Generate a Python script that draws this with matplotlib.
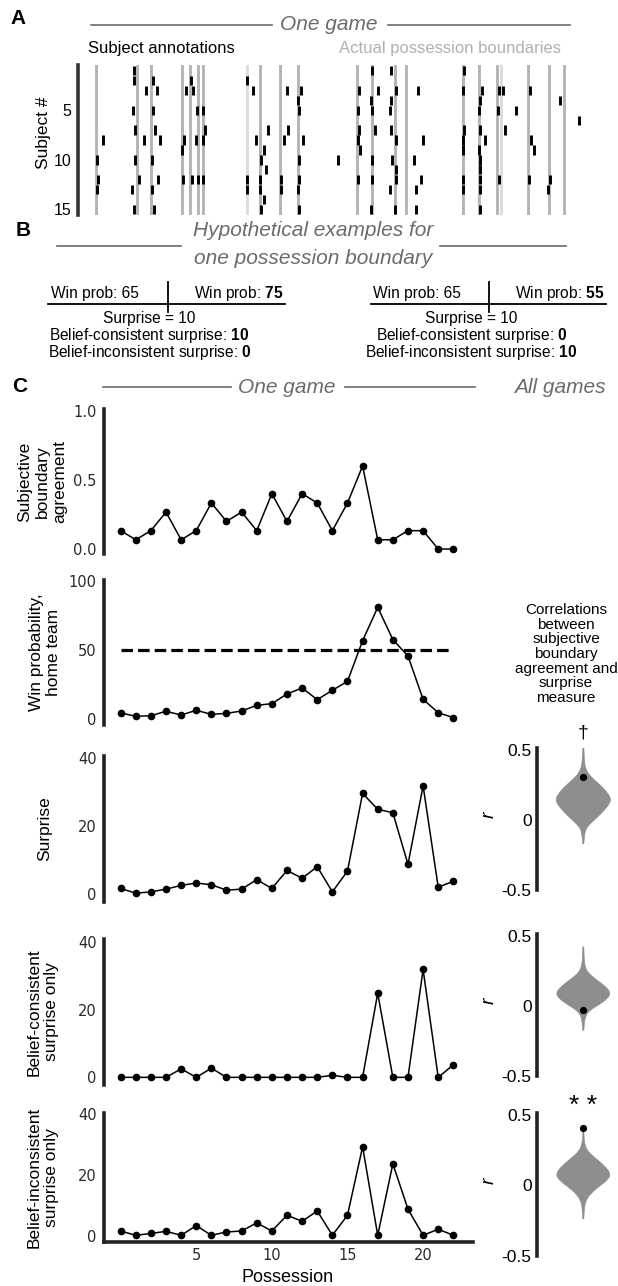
import matplotlib
matplotlib.use("Agg")
import matplotlib.pyplot as plt
from matplotlib.lines import Line2D
from matplotlib.path import Path
from matplotlib.patches import PathPatch

plt.rcParams['font.family'] = ['Liberation Sans', 'DejaVu Sans']
plt.rcParams['mathtext.fontset'] = 'custom'
plt.rcParams['mathtext.rm'] = 'Liberation Sans'
plt.rcParams['mathtext.bf'] = 'Liberation Sans:bold'
plt.rcParams['mathtext.it'] = 'Liberation Sans:italic'

# ---------------- data ----------------
# Panel A: possession boundaries (time, arbitrary units) and subject annotations
boundary_times = [95.7, 136.7, 151, 182.3, 190, 198.3, 203.3, 246.7, 260, 280,
                  297.7, 356.7, 371.7, 395, 405.7, 462.7, 479, 497, 501, 528,
                  549, 563.6]
boundary_light = [246.7, 501]
subjects = list(range(1, 16))
annotations = [
    [134.3, 371.7, 391, 464],
    [134.3, 153.3, 190.7, 246.7],
    [146, 157.3, 186, 193.3, 253.3, 286.7, 301, 359, 378.3, 395.7, 417.7, 463.3, 482.3, 498.5, 502.6, 530],
    [297.7, 371, 391, 480, 559.7],
    [133.3, 153.3, 197.3, 203.3, 299, 357.7, 372.3, 389.7, 479, 497.7, 516.4],
    [579.4],
    [135, 155, 205, 268.3, 288.3, 359, 375, 391, 464.3, 480, 504.5],
    [102.7, 144.3, 160, 184, 196, 202.7, 255.7, 284.3, 302.7, 357.7, 395.7, 423.3, 462.7, 485, 531.3],
    [182.3, 264.3, 360, 462.7, 479, 534],
    [96.7, 135, 152.3, 261, 299, 337.7, 372.3, 392.3, 414.3, 480],
    [265.7, 395.7, 480],
    [97.7, 139, 158.3, 183.3, 191.7, 198.3, 203.3, 247.3, 260, 281, 299, 357.7, 372.3, 395.7, 421, 462.7, 480, 499, 529.4, 549.9],
    [96.7, 132.3, 152.3, 246.7, 260, 281, 297.7, 390, 415.7, 462.7, 480, 548],
    [264.3],
    [134.3, 154.3, 261, 299, 371, 395, 415.7, 480],
]

# Panel C: per-possession series
possession = list(range(23))
agreement = [0.133, 0.067, 0.133, 0.267, 0.067, 0.133, 0.333, 0.2, 0.267, 0.133, 0.4, 0.2,
             0.4, 0.333, 0.133, 0.333, 0.6, 0.067, 0.067, 0.133, 0.133, 0.0, 0.0]
win_prob = [4.6, 2.2, 2.6, 5.8, 3.1, 6.5, 3.6, 4.3, 6.0, 10.1, 11.3, 18.3, 22.6, 14.2,
            20.9, 27.4, 56.7, 80.8, 57.5, 45.7, 14.4, 4.8, 1.2]
surprise = [1.7, 0.3, 0.7, 1.5, 2.6, 3.3, 2.8, 1.2, 1.5, 4.3, 1.7, 7.0, 4.7, 8.1, 0.7,
            6.8, 29.7, 25.0, 24.0, 8.8, 31.9, 2.1, 3.8]
consistent = [0, 0, 0, 0, 2.5, 0, 2.7, 0, 0, 0, 0, 0, 0, 0, 0.6, 0, 0, 24.8, 0, 0, 31.8, 0, 3.7]
inconsistent = [1.6, 0.2, 0.8, 1.5, 0.2, 3.4, 0.2, 1.3, 1.6, 4.3, 1.6, 6.8, 4.8, 8.2, 0.2,
                6.8, 29.3, 0.2, 23.7, 8.8, 0.2, 2.2, 0.2]
chance_level = 50

# Violin outlines (r level, relative half-width) for the null distributions
v_surprise_r = [0.519, 0.424, 0.376, 0.329, 0.281, 0.233, 0.186, 0.150, 0.114, 0.067, 0.019, -0.029, -0.064, -0.100, -0.171]
v_surprise_w = [0.02, 0.04, 0.07, 0.18, 0.42, 0.70, 0.90, 1.0, 0.94, 0.75, 0.51, 0.24, 0.10, 0.05, 0.02]
v_cons_r = [0.421, 0.338, 0.29, 0.243, 0.195, 0.148, 0.095, 0.05, 0.005, -0.031, -0.067, -0.114, -0.174]
v_cons_w = [0.02, 0.03, 0.06, 0.14, 0.42, 0.75, 1.0, 0.87, 0.54, 0.24, 0.10, 0.04, 0.02]
v_incons_r = [0.381, 0.333, 0.286, 0.238, 0.19, 0.143, 0.083, 0.036, -0.012, -0.06, -0.107, -0.155, -0.238]
v_incons_w = [0.02, 0.03, 0.06, 0.18, 0.46, 0.75, 1.0, 0.87, 0.54, 0.26, 0.10, 0.04, 0.02]
observed_r = [0.305, -0.026, 0.41]
significance = ['\u2020', '', '* *']

# ---------------- layout helpers ----------------
W, H = 618, 1286
fig = plt.figure(figsize=(W / 100, H / 100), dpi=100)
fig.patch.set_facecolor('white')


def add_ax(left, top, right, bottom):
    return fig.add_axes([left / W, 1 - bottom / H, (right - left) / W, (bottom - top) / H])


def ftext(x, y, s, **kw):
    return fig.text(x / W, 1 - y / H, s, **kw)


def fline(x0, x1, y0, y1, **kw):
    fig.add_artist(Line2D([x0 / W, x1 / W], [1 - y0 / H, 1 - y1 / H], **kw))


GRAY_HDR = '#6b6b6b'
SPINE_C = '#222222'

# ---------------- Panel A ----------------
ftext(10, 19, 'A', fontsize=15, fontweight='bold', va='center', ha='left')
ftext(329, 25, 'One game', fontsize=15, style='italic', color=GRAY_HDR, ha='center', va='center')
fline(91, 272, 25, 25, color=GRAY_HDR, lw=1.2)
fline(388, 570, 25, 25, color=GRAY_HDR, lw=1.2)
ftext(87.5, 49, 'Subject annotations', fontsize=12, color='black', ha='left', va='center')
ftext(339, 49, 'Actual possession boundaries', fontsize=12, color='#b0b0b0', ha='left', va='center')

axA = add_ax(78.3, 65.3, 600, 215.3)
for t in boundary_times:
    axA.axvline(t, color='#dcdcdc' if t in boundary_light else '#b4b4b4', lw=2.1, zorder=1)
axA.eventplot(annotations, lineoffsets=subjects, linelengths=0.95, linewidths=2.1,
              colors='black', zorder=2)
axA.set_xlim(78.3, 600)
axA.set_ylim(15.6, 0.45)
axA.set_yticks([5, 10, 15])
axA.set_xticks([])
axA.tick_params(axis='y', length=0, pad=5, labelsize=11.5)
for s in ['top', 'right', 'bottom']:
    axA.spines[s].set_visible(False)
axA.spines['left'].set_linewidth(2.6)
axA.spines['left'].set_color('#333333')
ftext(43, 133, 'Subject #', fontsize=12.5, rotation=90, ha='center', va='center')

# ---------------- Panel B ----------------
ftext(16, 231, 'B', fontsize=15, fontweight='bold', va='center', ha='left')
ftext(313, 230, 'Hypothetical examples for', fontsize=15, style='italic', color=GRAY_HDR, ha='center', va='center')
ftext(313, 258, 'one possession boundary', fontsize=15, style='italic', color=GRAY_HDR, ha='center', va='center')
fline(57, 181, 246, 246, color=GRAY_HDR, lw=1.2)
fline(439.5, 565.6, 246, 246, color=GRAY_HDR, lw=1.2)

examples = [
    dict(l=48, r=284.6, v=167.5, c=149.5, before='65', after='75', cons='10', incons='0'),
    dict(l=370.5, r=605.8, v=488.8, c=471.5, before='65', after='55', cons='0', incons='10'),
]
fsB = 11.2
for ex in examples:
    fline(ex['l'], ex['r'], 304.3, 304.3, color='black', lw=1.3)
    fline(ex['v'], ex['v'], 282, 312, color='black', lw=1.3)
    ftext(ex['l'] + 3, 293.3, 'Win prob: ' + ex['before'], fontsize=fsB, ha='left', va='center')
    ftext(ex['r'] - 1, 293.3, 'Win prob: $\\mathbf{' + ex['after'] + '}$', fontsize=fsB, ha='right', va='center')
    ftext(ex['c'], 318.5, 'Surprise = 10', fontsize=fsB, ha='center', va='center')
    ftext(ex['c'], 335.0, 'Belief-consistent surprise: $\\mathbf{' + ex['cons'] + '}$', fontsize=fsB, ha='center', va='center')
    ftext(ex['c'], 353.0, 'Belief-inconsistent surprise: $\\mathbf{' + ex['incons'] + '}$', fontsize=fsB, ha='center', va='center')

# ---------------- Panel C ----------------
ftext(12, 386, 'C', fontsize=15, fontweight='bold', va='center', ha='left')
ftext(287, 387, 'One game', fontsize=15, style='italic', color=GRAY_HDR, ha='center', va='center')
fline(103, 230.6, 387, 387, color=GRAY_HDR, lw=1.2)
fline(345, 475, 387, 387, color=GRAY_HDR, lw=1.2)
ftext(559.5, 387, 'All games', fontsize=15, style='italic', color=GRAY_HDR, ha='center', va='center')

XL, XR = 103.7, 473
panels = [
    # (top, bottom, series, ylim, yticks, yticklabels, ylabel, label_x)
    (409.3, 554.3, agreement, (-0.038, 1.01), [0, 0.5, 1.0], ['0.0', '0.5', '1.0'],
     'Subjective\nboundary\nagreement', 42),
    (580.0, 725.0, win_prob, (-4.1, 100.5), [0, 50, 100], ['0', '50', '100'],
     'Win probability,\nhome team', 45),
    (756.0, 901.7, surprise, (-2.2, 40.7), [0, 20, 40], ['0', '20', '40'],
     'Surprise', 45),
    (939.3, 1084.8, consistent, (-2.2, 40.7), [0, 20, 40], ['0', '20', '40'],
     'Belief-consistent\nsurprise only', 43),
    (1113.3, 1242.3, inconsistent, (-2.1, 40.3), [0, 20, 40], ['0', '20', '40'],
     'Belief-inconsistent\nsurprise only', 43),
]
TICK_FS = 10.5
axesC = []
for i, (top, bot, series, ylim, yt, ytl, ylab, lx) in enumerate(panels):
    ax = add_ax(XL, top, XR, bot)
    ax.plot(possession, series, '-o', color='black', lw=1.1, ms=4.5, zorder=3)
    ax.set_xlim(-1.12, 23.3)
    ax.set_ylim(*ylim)
    ax.set_yticks(yt)
    ax.set_yticklabels(ytl, fontfamily='DejaVu Sans', fontsize=TICK_FS, color='#2a2a2a')
    ax.tick_params(axis='y', length=0, pad=5)
    for s in ['top', 'right']:
        ax.spines[s].set_visible(False)
    ax.spines['left'].set_linewidth(2.6)
    ax.spines['left'].set_color(SPINE_C)
    if i == len(panels) - 1:
        ax.spines['bottom'].set_linewidth(2.6)
        ax.spines['bottom'].set_color(SPINE_C)
        ax.set_xticks([5, 10, 15, 20])
        ax.set_xticklabels(['5', '10', '15', '20'], fontfamily='DejaVu Sans', fontsize=TICK_FS, color='#2a2a2a')
        ax.tick_params(axis='x', length=0, pad=4)
    else:
        ax.spines['bottom'].set_visible(False)
        ax.set_xticks([])
    ftext(lx, (top + bot) / 2, ylab, fontsize=12.5, rotation=90, ha='center', va='center',
          multialignment='center', linespacing=1.2)
    axesC.append(ax)

axesC[1].hlines(chance_level, possession[0], possession[-1], colors='black', lw=2.3,
                linestyles=(0, (3.6, 1.6)), zorder=2)
ftext(288, 1277, 'Possession', fontsize=13, ha='center', va='center')

# Correlations annotation
ftext(566, 654, 'Correlations\nbetween\nsubjective\nboundary\nagreement and\nsurprise\nmeasure',
      fontsize=11, ha='center', va='center', multialignment='center', linespacing=1.05)

# ---------------- violins ----------------
VL, VR = 537.3, 618
VC = 583.3
HALF_W = 27.7
violins = [
    (747.7, 890.0, v_surprise_r, v_surprise_w),
    (933.7, 1076.0, v_cons_r, v_cons_w),
    (1113.0, 1255.7, v_incons_r, v_incons_w),
]
for k, (top, bot, vr, vw) in enumerate(violins):
    ax = add_ax(VL, top, VR, bot)
    ax.set_xlim(VL - VC, VR - VC)
    ax.set_ylim(-0.5, 0.515)
    right = [(w * HALF_W, r) for w, r in zip(vw, vr)]
    left = [(-x, y) for x, y in right[::-1]]
    verts = [right[0]]
    codes = [Path.MOVETO]
    for j in range(1, len(right) - 1):
        mid = ((right[j][0] + right[j + 1][0]) / 2, (right[j][1] + right[j + 1][1]) / 2)
        verts += [right[j], mid]
        codes += [Path.CURVE3, Path.CURVE3]
    verts.append(right[-1]); codes.append(Path.LINETO)
    verts.append(left[0]); codes.append(Path.LINETO)
    for j in range(1, len(left) - 1):
        mid = ((left[j][0] + left[j + 1][0]) / 2, (left[j][1] + left[j + 1][1]) / 2)
        verts += [left[j], mid]
        codes += [Path.CURVE3, Path.CURVE3]
    verts.append(left[-1]); codes.append(Path.LINETO)
    verts.append(right[0]); codes.append(Path.CLOSEPOLY)
    ax.add_patch(PathPatch(Path(verts, codes), facecolor='#8e8e8e', edgecolor='#8e8e8e', lw=0.4))
    ax.plot([0], [observed_r[k]], 'o', color='black', ms=4.2, zorder=4)
    ax.set_yticks([-0.5, 0, 0.5])
    ax.set_yticklabels(['-0.5', '0', '0.5'], fontsize=12.5)
    ax.set_xticks([])
    ax.tick_params(axis='y', length=0, pad=4)
    for s in ['top', 'right', 'bottom']:
        ax.spines[s].set_visible(False)
    ax.spines['left'].set_linewidth(2.6)
    ax.spines['left'].set_color(SPINE_C)
    ftext(489, (top + bot) / 2 - 4, 'r', fontsize=14, style='italic', rotation=90,
          ha='center', va='center')

ftext(VC, 733, significance[0], fontsize=14, ha='center', va='center')
ftext(VC, 1106, significance[2], fontsize=19, ha='center', va='center')

fig.savefig('out.png', dpi=100, facecolor='white')
